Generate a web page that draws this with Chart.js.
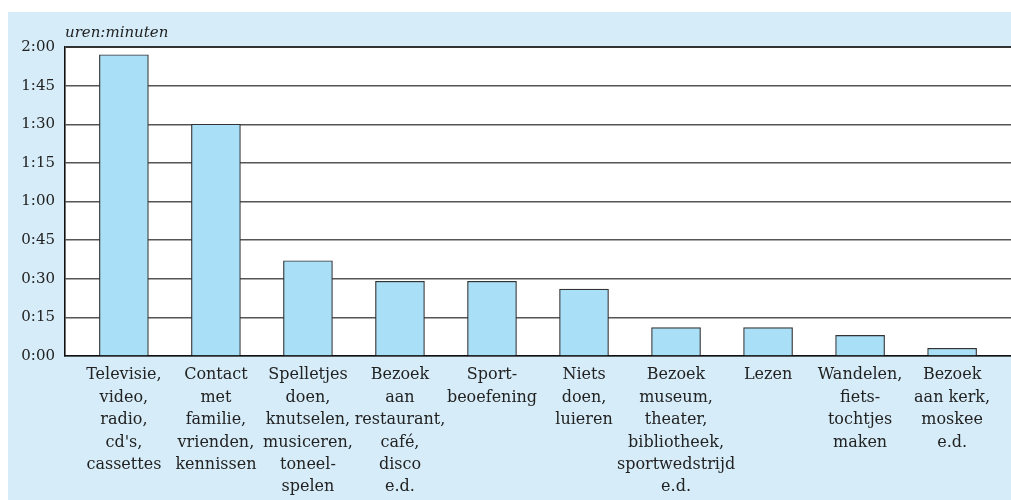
<!DOCTYPE html>
<html>
<head>
<meta charset="utf-8">
<script src="https://cdn.jsdelivr.net/npm/chart.js@4.4.0/dist/chart.umd.min.js"></script>
<style>
  html, body { margin: 0; padding: 0; background: #fff; }
  #wrap { position: relative; width: 1011px; height: 500px; }
</style>
</head>
<body>
<div id="wrap"><canvas id="grafiek" width="1011" height="500"></canvas></div>
<script>
// activiteiten (x-as), tijd in minuten per dag
const activiteiten = [
  ["Televisie,", "video,", "radio,", "cd's,", "cassettes"],
  ["Contact", "met", "familie,", "vrienden,", "kennissen"],
  ["Spelletjes", "doen,", "knutselen,", "musiceren,", "toneel-", "spelen"],
  ["Bezoek", "aan", "restaurant,", "café,", "disco", "e.d."],
  ["Sport-", "beoefening"],
  ["Niets", "doen,", "luieren"],
  ["Bezoek", "museum,", "theater,", "bibliotheek,", "sportwedstrijd", "e.d."],
  ["Lezen"],
  ["Wandelen,", "fiets-", "tochtjes", "maken"],
  ["Bezoek", "aan kerk,", "moskee", "e.d."],
];
const minuten = [117, 90, 37, 29, 29, 26, 11, 11, 8, 3];
const asTitel = "uren:minuten";
const yMax = 120;
const yStap = 15;

// h:mm notatie voor de y-as
function tijd(v) {
  const h = Math.floor(v / 60);
  const m = v % 60;
  return h + ":" + String(m).padStart(2, "0");
}

// achtergrond: lichtblauw vlak en wit plotgebied + astitel
const achtergrond = {
  id: "achtergrond",
  beforeDraw(chart) {
    const { ctx, chartArea: a } = chart;
    ctx.save();
    ctx.fillStyle = "#d6edf9";
    ctx.fillRect(8, 12, chart.width - 8, chart.height - 12);
    ctx.fillStyle = "#ffffff";
    ctx.fillRect(a.left, a.top, a.right - a.left, a.bottom - a.top);
    ctx.restore();
  },
  afterDraw(chart) {
    const { ctx, chartArea: a } = chart;
    ctx.save();
    ctx.fillStyle = "#222";
    ctx.font = "italic 15px 'DejaVu Serif'";
    ctx.textBaseline = "alphabetic";
    ctx.fillText(asTitel, a.left, a.top - 10);
    ctx.restore();
  },
};

const ctx = document.getElementById("grafiek").getContext("2d");

new Chart(ctx, {
  type: "bar",
  data: {
    datasets: [
      {
        data: minuten.map((v, i) => ({ x: i, y: v })),
        backgroundColor: "#aadff8",
        borderColor: "#333",
        borderWidth: 1.2,
        barThickness: 49,
      },
    ],
  },
  options: {
    responsive: false,
    animation: false,
    layout: { padding: { top: 47, left: 0, right: 0, bottom: 0 } },
    plugins: {
      legend: { display: false },
      tooltip: { enabled: false },
    },
    scales: {
      x: {
        type: "linear",
        offset: false,
        min: -0.64,
        max: 9.64,
        grid: { display: false, drawTicks: false },
        border: { display: true, color: "#111", width: 1.6 },
        afterBuildTicks: (axis) => {
          axis.ticks = activiteiten.map((_, i) => ({ value: i }));
        },
        afterFit: (axis) => {
          axis.height = 144;
          axis.paddingLeft = 0;
          axis.paddingRight = 0;
        },
        ticks: {
          autoSkip: false,
          maxRotation: 0,
          minRotation: 0,
          padding: 8,
          color: "#222",
          font: { family: "DejaVu Serif", size: 16, lineHeight: 1.4 },
          callback: (v) => activiteiten[v],
        },
      },
      y: {
        min: 0,
        max: yMax,
        grid: {
          drawTicks: false,
          color: (c) => (c.tick && c.tick.value === yMax ? "#333" : "#555"),
          lineWidth: (c) => (c.tick && c.tick.value === yMax ? 2 : 1.5),
        },
        border: { display: true, color: "#111", width: 1.6 },
        afterFit: (axis) => {
          axis.width = 65;
        },
        ticks: {
          stepSize: yStap,
          padding: 10,
          color: "#222",
          font: { family: "DejaVu Serif", size: 15 },
          callback: (v) => tijd(v),
        },
      },
    },
  },
  plugins: [achtergrond],
});
</script>
</body>
</html>
